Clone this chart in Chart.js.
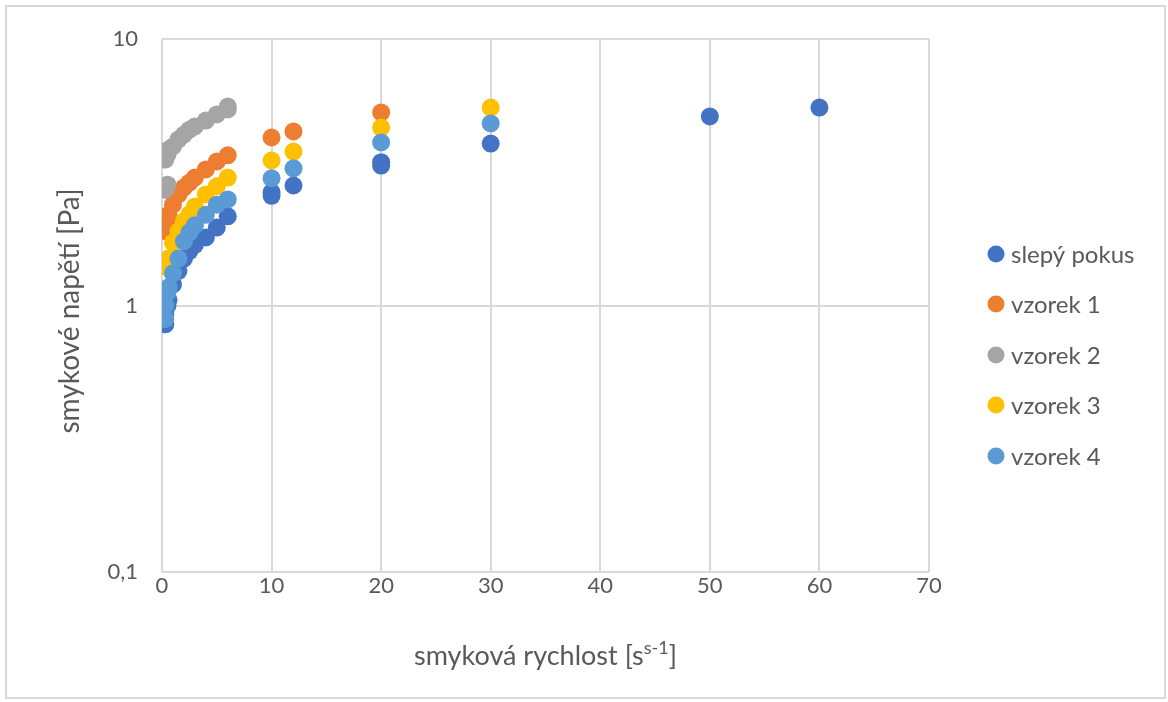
<!DOCTYPE html>
<html>
<head>
<meta charset="utf-8">
<script src="https://cdn.jsdelivr.net/npm/chart.js@4.4.1/dist/chart.umd.min.js"></script>
<style>
  body { margin: 0; background: #fff; }
  #wrap { position: absolute; left: 0; top: 0; width: 1168px; height: 702px; }
  #frame { position: absolute; left: 5px; top: 5px; width: 1157px; height: 690px; border: 2px solid #d9d9d9; pointer-events: none; }
</style>
</head>
<body>
<div id="wrap">
  <canvas id="chart" width="1168" height="702"></canvas>
  <div id="frame"></div>
</div>
<script>
// series data
const seriesNames = ['slepý pokus', 'vzorek 1', 'vzorek 2', 'vzorek 3', 'vzorek 4'];
const seriesColors = ['#4472C4', '#ED7D31', '#A5A5A5', '#FFC000', '#5B9BD5'];

const blankX = [0.3, 0.3, 0.5, 0.6, 1, 1.5, 2, 2.5, 3, 4, 5, 6, 10, 10, 12, 20, 20, 30, 50, 60];
const blankY = [0.85, 0.925, 1.0, 1.05, 1.2, 1.35, 1.5, 1.6, 1.69, 1.8, 1.96, 2.16, 2.58, 2.66, 2.82, 3.35, 3.45, 4.05, 5.12, 5.53];

const v1X = [0.3, 0.5, 0.6, 1, 1.5, 2, 2.5, 3, 4, 5, 6, 10, 12, 20];
const v1Y = [1.9, 2.05, 2.19, 2.39, 2.61, 2.77, 2.89, 3.02, 3.24, 3.47, 3.66, 4.27, 4.5, 5.3];

const v2X = [0.3, 0.5, 0.3, 0.5, 0.6, 1, 1.5, 2, 2.5, 3, 4, 5, 6, 6];
const v2Y = [2.72, 2.84, 3.53, 3.69, 3.85, 3.95, 4.2, 4.38, 4.57, 4.7, 4.94, 5.21, 5.44, 5.58];

const v3X = [0.3, 0.5, 0.6, 1, 1.5, 2, 2.5, 3, 4, 5, 6, 10, 12, 20, 30];
const v3Y = [1.15, 1.39, 1.5, 1.72, 1.9, 2.07, 2.2, 2.35, 2.61, 2.8, 3.02, 3.5, 3.78, 4.65, 5.53];

const v4X = [0.3, 0.3, 0.5, 0.6, 1, 1.5, 2, 2.5, 3, 4, 5, 6, 10, 12, 20, 30];
const v4Y = [0.89, 1.0, 1.12, 1.17, 1.32, 1.5, 1.74, 1.88, 2.0, 2.19, 2.39, 2.5, 3.0, 3.27, 4.09, 4.82];

const xTicks = [0, 10, 20, 30, 40, 50, 60, 70];
const yTicks = [0.1, 1, 10];

const xs = [blankX, v1X, v2X, v3X, v4X];
const ys = [blankY, v1Y, v2Y, v3Y, v4Y];

const textColor = '#595959';
const gridColor = '#d9d9d9';
const fontFamily = 'Lato, "Open Sans", sans-serif';

const datasets = seriesNames.map((name, i) => ({
    label: name,
    data: xs[i].map((x, j) => ({ x: x, y: ys[i][j] })),
    backgroundColor: seriesColors[i],
    borderColor: seriesColors[i],
    borderWidth: 0,
    pointRadius: 9,
    pointHoverRadius: 9,
    order: seriesNames.length - i // last series on top, like Excel
}));

// titles and legend drawn by hand so they sit where the picture has them
const decorations = {
    id: 'decorations',
    afterDraw(chart) {
        const ctx = chart.ctx;
        const area = chart.chartArea;
        ctx.save();
        ctx.fillStyle = textColor;

        // y title
        ctx.font = '28px ' + fontFamily;
        ctx.textAlign = 'center';
        ctx.textBaseline = 'middle';
        ctx.translate(70, 311);
        ctx.rotate(-Math.PI / 2);
        ctx.fillText('smykové napětí [Pa]', 0, 0);
        ctx.setTransform(1, 0, 0, 1, 0, 0);

        // x title with superscript
        const main1 = 'smyková rychlost [s';
        const sup = 's-1';
        const main2 = ']';
        ctx.font = '27px ' + fontFamily;
        const w1 = ctx.measureText(main1).width;
        const w3 = ctx.measureText(main2).width;
        ctx.font = '18px ' + fontFamily;
        const w2 = ctx.measureText(sup).width;
        let x = (area.left + area.right) / 2 - (w1 + w2 + w3) / 2;
        const y = 656;
        ctx.textAlign = 'left';
        ctx.textBaseline = 'middle';
        ctx.font = '27px ' + fontFamily;
        ctx.fillText(main1, x, y);
        x += w1;
        ctx.font = '18px ' + fontFamily;
        ctx.fillText(sup, x, y - 8);
        x += w2;
        ctx.font = '27px ' + fontFamily;
        ctx.fillText(main2, x, y);

        // legend
        const legendY = [254, 304, 355, 405, 456];
        ctx.font = '24px ' + fontFamily;
        seriesNames.forEach((name, i) => {
            ctx.beginPath();
            ctx.fillStyle = seriesColors[i];
            ctx.arc(996, legendY[i], 8.5, 0, Math.PI * 2);
            ctx.fill();
            ctx.fillStyle = textColor;
            ctx.fillText(name, 1011, legendY[i] + 1);
        });
        ctx.restore();
    }
};

new Chart(document.getElementById('chart'), {
    type: 'scatter',
    data: { datasets: datasets },
    options: {
        responsive: false,
        animation: false,
        devicePixelRatio: 1,
        layout: { padding: { left: 0, top: 39, right: 239, bottom: 0 } },
        plugins: {
            legend: { display: false },
            tooltip: { enabled: false }
        },
        scales: {
            x: {
                type: 'linear',
                min: 0,
                max: 70,
                afterBuildTicks: s => { s.ticks = xTicks.map(v => ({ value: v })); },
                afterFit: s => { s.height = 130; },
                grid: { color: gridColor, lineWidth: 2, drawTicks: false },
                border: { display: false },
                ticks: { color: textColor, font: { family: fontFamily, size: 22 }, padding: 1 }
            },
            y: {
                type: 'logarithmic',
                min: 0.1,
                max: 10,
                afterBuildTicks: s => { s.ticks = yTicks.map(v => ({ value: v })); },
                afterFit: s => { s.width = 162; },
                grid: { color: gridColor, lineWidth: 2, drawTicks: false },
                border: { display: false },
                ticks: {
                    color: textColor,
                    font: { family: fontFamily, size: 22 },
                    padding: 24,
                    callback: v => String(v).replace('.', ',')
                }
            }
        }
    },
    plugins: [decorations]
});
</script>
</body>
</html>
